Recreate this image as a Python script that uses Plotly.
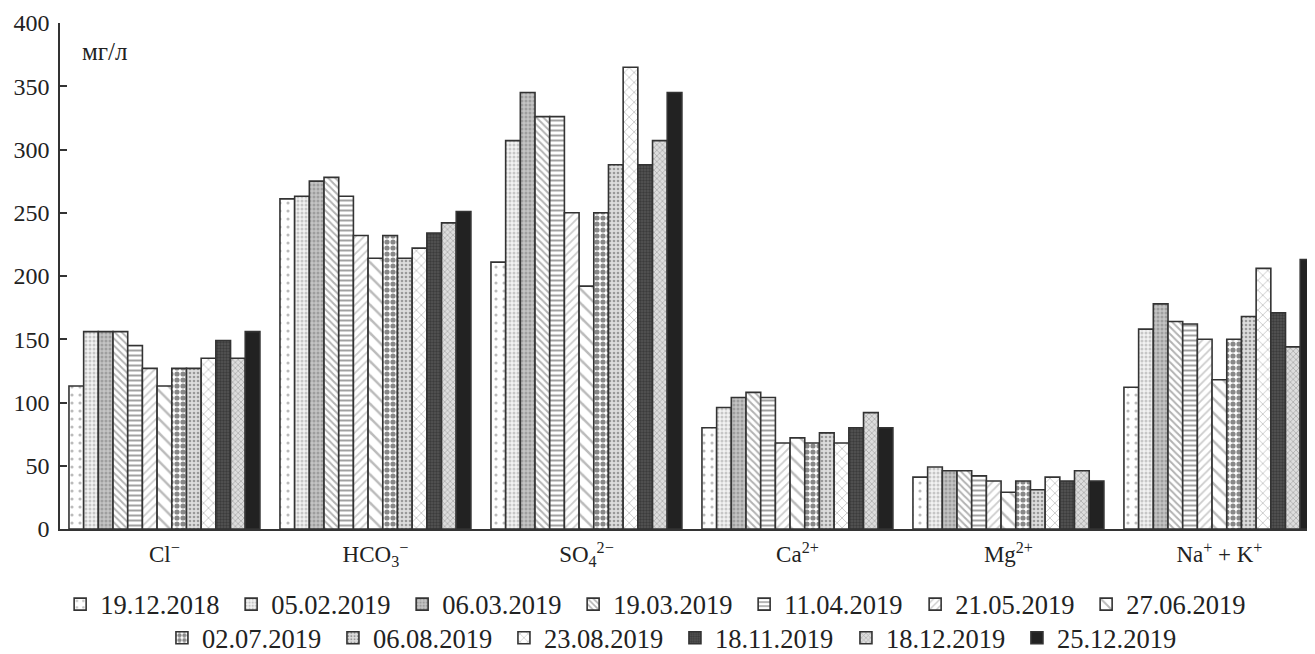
import plotly.graph_objects as go

categories = ["Cl<sup>−</sup>", "HCO<sub>3</sub><sup>−</sup>", "SO<sub>4</sub><sup>2−</sup>",
              "Ca<sup>2+</sup>", "Mg<sup>2+</sup>", "Na<sup>+</sup> + K<sup>+</sup>"]

dates = ["19.12.2018", "05.02.2019", "06.03.2019", "19.03.2019", "11.04.2019",
         "21.05.2019", "27.06.2019", "02.07.2019", "06.08.2019", "23.08.2019",
         "18.11.2019", "18.12.2019", "25.12.2019"]

# values per date: [Cl, HCO3, SO4, Ca, Mg, Na+K]
v_19_12_2018 = [113, 261, 211, 80, 41, 112]
v_05_02_2019 = [156, 263, 307, 96, 49, 158]
v_06_03_2019 = [156, 275, 345, 104, 46, 178]
v_19_03_2019 = [156, 278, 326, 108, 46, 164]
v_11_04_2019 = [145, 263, 326, 104, 42, 162]
v_21_05_2019 = [127, 232, 250, 68, 38, 150]
v_27_06_2019 = [113, 214, 192, 72, 29, 118]
v_02_07_2019 = [127, 232, 250, 68, 38, 150]
v_06_08_2019 = [127, 214, 288, 76, 31, 168]
v_23_08_2019 = [135, 222, 365, 68, 41, 206]
v_18_11_2019 = [149, 234, 288, 80, 38, 171]
v_18_12_2019 = [135, 242, 307, 92, 46, 144]
v_25_12_2019 = [156, 251, 345, 80, 38, 213]

series = [v_19_12_2018, v_05_02_2019, v_06_03_2019, v_19_03_2019, v_11_04_2019,
          v_21_05_2019, v_27_06_2019, v_02_07_2019, v_06_08_2019, v_23_08_2019,
          v_18_11_2019, v_18_12_2019, v_25_12_2019]

patterns = [
    dict(shape=".", bgcolor="white", fgcolor="#777", size=8, solidity=0.12),
    dict(shape=".", bgcolor="#f2f2f2", fgcolor="#999", size=4, solidity=0.45),
    dict(shape=".", bgcolor="#c4c4c4", fgcolor="#777", size=4, solidity=0.45),
    dict(shape="\\", bgcolor="white", fgcolor="#666", size=5, solidity=0.4),
    dict(shape="-", bgcolor="white", fgcolor="#444", size=5, solidity=0.4),
    dict(shape="/", bgcolor="white", fgcolor="#999", size=6, solidity=0.3),
    dict(shape="\\", bgcolor="white", fgcolor="#777", size=10, solidity=0.25),
    dict(shape=".", bgcolor="white", fgcolor="#111", size=6, solidity=0.6),
    dict(shape=".", bgcolor="#dddddd", fgcolor="#555", size=4, solidity=0.35),
    dict(shape="x", bgcolor="white", fgcolor="#777", size=7, solidity=0.2),
    dict(shape=".", bgcolor="#555", fgcolor="#222", size=3, solidity=0.5),
    dict(shape="x", bgcolor="#dddddd", fgcolor="#888", size=4, solidity=0.4),
    dict(shape="", bgcolor="#222"),
]
colors = ["white", "#f2f2f2", "#c4c4c4", "white", "white", "white", "white",
          "white", "#dddddd", "white", "#555", "#dddddd", "#222"]

FONT = "Times New Roman, Liberation Serif, Times, serif"

fig = go.Figure()
for i, (d, vals) in enumerate(zip(dates, series)):
    fig.add_trace(go.Bar(
        x=categories, y=vals, name=d,
        marker=dict(color=colors[i], pattern=patterns[i],
                    line=dict(color="#333", width=1.6)),
        legend="legend" if i < 7 else "legend2",
    ))

fig.update_layout(
    width=1315, height=654,
    margin=dict(l=52, r=8, t=15, b=133, autoexpand=False),
    paper_bgcolor="white", plot_bgcolor="white",
    barmode="group", bargap=0.095, bargroupgap=0,
    font=dict(family=FONT, color="#222", size=22),
    showlegend=True,
    legend=dict(orientation="h", x=0.477, xanchor="center", y=-0.149, yanchor="middle",
                font=dict(family=FONT, size=26.5, color="#222"), bgcolor="rgba(0,0,0,0)",
                itemwidth=30, entrywidth=126, traceorder="normal"),
    legend2=dict(orientation="h", x=0.49, xanchor="center", y=-0.2154, yanchor="middle",
                 font=dict(family=FONT, size=26.5, color="#222"), bgcolor="rgba(0,0,0,0)",
                 itemwidth=30, entrywidth=126, traceorder="normal"),
    xaxis=dict(type="category", range=[-0.495, 5.453],
               showline=True, linecolor="#333", linewidth=1.5,
               ticks="outside", tickcolor="rgba(0,0,0,0)", ticklen=4,
               tickfont=dict(family=FONT, size=23, color="#222"), showgrid=False,
               automargin=False),
    yaxis=dict(range=[0, 400], dtick=50, showline=True, linecolor="#333", linewidth=1.5,
               ticks="inside", ticklen=7, tickcolor="#333", tickwidth=1.5,
               ticklabelstandoff=4,
               tickfont=dict(family=FONT, size=24, color="#222"), showgrid=False,
               zeroline=False, automargin=False),
    annotations=[dict(text="мг/л", xref="paper", yref="paper", x=0.0159, y=0.943,
                      xanchor="left", yanchor="middle", showarrow=False,
                      font=dict(family=FONT, size=25, color="#222"))],
)

fig.write_html("out.html")
